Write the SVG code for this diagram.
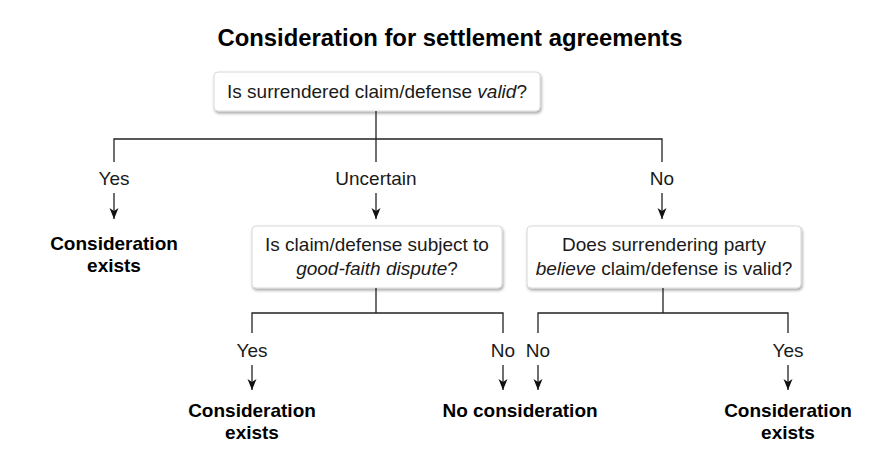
<svg xmlns="http://www.w3.org/2000/svg" width="875" height="450" viewBox="0 0 875 450">
<defs>
<filter id="sh" x="-10%" y="-20%" width="120%" height="150%">
<feDropShadow dx="1" dy="2" stdDeviation="1.5" flood-color="#000" flood-opacity="0.35"/>
</filter>
<marker id="ah" markerWidth="12" markerHeight="10" refX="11" refY="5" orient="auto" markerUnits="userSpaceOnUse" viewBox="0 0 12 10">
<path d="M0,0.5 L11,5 L0,9.5 L3,5 Z" fill="#111"/>
</marker>
</defs>
<style>
text{font-family:"Liberation Sans",Arial,sans-serif;fill:#1a1a1a}
.t{font-size:23px;font-weight:bold;fill:#000}
.q{font-size:19px;text-anchor:middle}
.l{font-size:19px;text-anchor:middle}
.r{font-size:19px;font-weight:bold;text-anchor:middle;fill:#000}
.box{fill:#fff;stroke:#d8d8d8;stroke-width:1;filter:url(#sh)}
.c{stroke:#222;stroke-width:1.3;fill:none}
.a{stroke:#222;stroke-width:1.3;fill:none;marker-end:url(#ah)}
</style>
<rect width="875" height="450" fill="#fff"/>
<text class="t" x="450" y="46" text-anchor="middle" textLength="465" lengthAdjust="spacingAndGlyphs">Consideration for settlement agreements</text>
<g id="n1"><rect class="box" x="214" y="72" width="326" height="39" rx="4"/><text class="q" x="377" y="98">Is surrendered claim/defense <tspan font-style="italic">valid</tspan>?</text></g>
<g id="n2"><rect class="box" x="252" y="226" width="250" height="62" rx="4"/><text class="q" x="377" y="251">Is claim/defense subject to</text><text class="q" x="377" y="275"><tspan font-style="italic">good-faith dispute</tspan>?</text></g>
<g id="n3"><rect class="box" x="527" y="226" width="274" height="62" rx="4"/><text class="q" x="664" y="251">Does surrendering party</text><text class="q" x="664" y="275"><tspan font-style="italic">believe</tspan> claim/defense is valid?</text></g>
<g id="labels">
<text class="l" x="114" y="185">Yes</text>
<text class="l" x="376" y="185">Uncertain</text>
<text class="l" x="662" y="185">No</text>
<text class="l" x="252" y="357">Yes</text>
<text class="l" x="503" y="357">No</text>
<text class="l" x="538" y="357">No</text>
<text class="l" x="788" y="357">Yes</text>
</g>
<g id="r1"><text class="r" x="114" y="250">Consideration</text><text class="r" x="114" y="272">exists</text></g>
<g id="r2"><text class="r" x="252" y="417">Consideration</text><text class="r" x="252" y="439">exists</text></g>
<g id="r3"><text class="r" x="520" y="417">No consideration</text></g>
<g id="r4"><text class="r" x="788" y="417">Consideration</text><text class="r" x="788" y="439">exists</text></g>
<g id="connectors">
<path class="c" d="M376,111 V139 M114,162 V139 H662 V162 M376,139 V162"/>
<path class="a" d="M114,193 V219"/>
<path class="a" d="M376,193 V219"/>
<path class="a" d="M662,193 V219"/>
<path class="c" d="M376,288 V313 M252,333 V313 H503 V333"/>
<path class="c" d="M663,288 V313 M538,333 V313 H788 V333"/>
<path class="a" d="M252,365 V390"/>
<path class="a" d="M503,365 V390"/>
<path class="a" d="M538,365 V390"/>
<path class="a" d="M788,365 V390"/>
</g>
</svg>
